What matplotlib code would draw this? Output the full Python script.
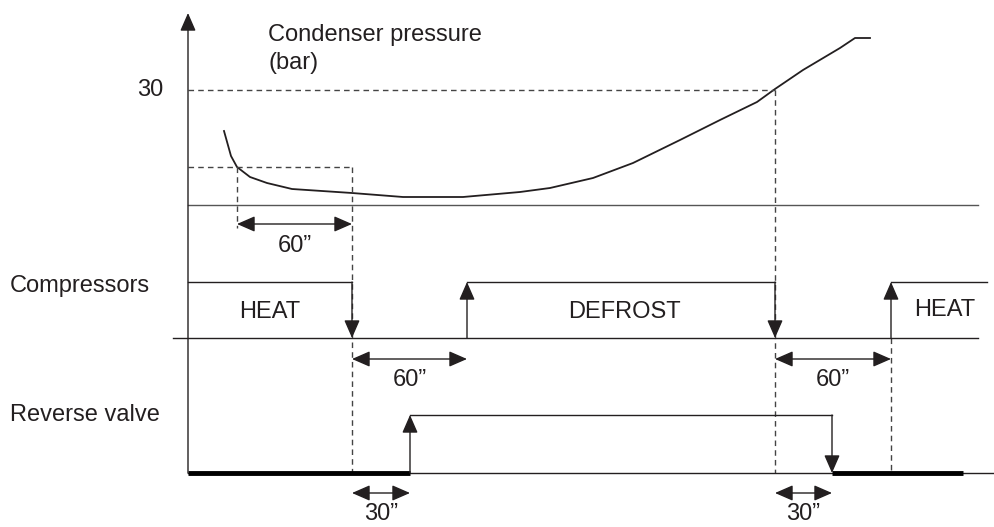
import matplotlib
matplotlib.use("Agg")
import matplotlib.pyplot as plt

plt.rcParams["font.family"] = ["Liberation Sans", "DejaVu Sans"]

# ── diagram data (screen-like units: x = time, y grows downward) ─────────────
# condenser pressure curve
curve_t = [224, 231, 237, 250, 267, 292, 352, 403, 463, 520, 550, 593, 633,
           680, 720, 757, 775, 803, 840, 855, 870]
curve_p = [131, 156, 167, 177, 183, 189, 193, 197, 197, 192, 188, 178, 163,
           140, 120, 102, 89, 70, 48, 38, 38]

# levels of the three traces
p_30bar, p_low, p_base = 90, 167, 205
comp_hi, comp_lo = 282, 338
valve_hi, valve_lo = 415, 473

# event times
t_axis = 188
t_knee = 237          # pressure falls below the lower threshold
t_heat_off = 352      # compressors stop (start of defrost sequence)
t_valve_on = 410      # reverse valve switches (30" later)
t_defrost_on = 467    # compressors restart (60" later)
t_defrost_end = 775   # pressure reaches 30 bar
t_valve_off = 832
t_heat_on = 891
t_end = 987

DARK = "#231f20"
DASH = "#444444"
FS = 17

fig = plt.figure(figsize=(9.95, 5.27), dpi=100)
ax = fig.add_axes([0, 0, 1, 1])
ax.set_xlim(0, 995)
ax.set_ylim(527, 0)
ax.axis("off")


def arrow(x0, y0, x1, y1, both=False):
    style = "<|-|>" if both else "-|>"
    ax.annotate("", xy=(x1, y1), xytext=(x0, y0),
                arrowprops=dict(arrowstyle=style + ",head_length=1.1,head_width=0.48",
                                color=DARK, lw=1.0, shrinkA=0, shrinkB=0))


dash = dict(color=DASH, lw=1.0, ls=(0, (4, 3)))
solid = dict(color=DARK, lw=1.0)

# vertical axis with arrow
arrow(t_axis, valve_lo, t_axis, 13)

# pressure panel
ax.plot(curve_t, curve_p, color=DARK, lw=1.3)
ax.plot([t_axis, t_defrost_end], [p_30bar, p_30bar], **dash)
ax.plot([t_axis, t_heat_off], [p_low, p_low], **dash)
ax.plot([t_knee, t_knee], [p_low, 228], **dash)
ax.plot([t_axis, 978], [p_base, p_base], color="#555555", lw=1.0)
arrow(t_knee, 224, t_heat_off, 224, both=True)
ax.text(t_axis + 80, 35, "Condenser pressure", fontsize=FS, va="center", color=DARK)
ax.text(t_axis + 80, 63, "(bar)", fontsize=FS, va="center", color=DARK)
ax.text(150, p_30bar, "30", fontsize=FS, ha="center", va="center", color=DARK)
ax.text((t_knee + t_heat_off) / 2, 246, "60\u201d", fontsize=FS, ha="center",
        va="center", color=DARK)

# guide lines
ax.plot([t_heat_off, t_heat_off], [p_low, valve_lo], **dash)
ax.plot([t_defrost_end, t_defrost_end], [p_30bar, valve_lo], **dash)
ax.plot([t_heat_on, t_heat_on], [comp_lo, valve_lo], **dash)

# compressors
ax.plot([173, 978], [comp_lo, comp_lo], **solid)
ax.plot([t_axis, t_heat_off], [comp_hi, comp_hi], **solid)
arrow(t_heat_off, comp_hi, t_heat_off, comp_lo)
ax.plot([t_defrost_on, t_defrost_end], [comp_hi, comp_hi], **solid)
arrow(t_defrost_on, comp_lo, t_defrost_on, comp_hi)
arrow(t_defrost_end, comp_hi, t_defrost_end, comp_lo)
ax.plot([t_heat_on, t_end], [comp_hi, comp_hi], **solid)
arrow(t_heat_on, comp_lo, t_heat_on, comp_hi)
ax.text(10, 286, "Compressors", fontsize=FS, va="center", color=DARK)
ax.text(270, 312, "HEAT", fontsize=FS, ha="center", va="center", color=DARK)
ax.text(624, 312, "DEFROST", fontsize=FS, ha="center", va="center", color=DARK)
ax.text(945, 310, "HEAT", fontsize=FS, ha="center", va="center", color=DARK)

arrow(t_heat_off, 359, t_defrost_on, 359, both=True)
arrow(t_defrost_end, 359, t_heat_on, 359, both=True)
ax.text((t_heat_off + t_defrost_on) / 2, 380, "60\u201d", fontsize=FS,
        ha="center", va="center", color=DARK)
ax.text((t_defrost_end + t_heat_on) / 2, 380, "60\u201d", fontsize=FS,
        ha="center", va="center", color=DARK)

# reverse valve
ax.plot([t_axis, 995], [valve_lo, valve_lo], **solid)
ax.plot([t_axis, t_valve_on], [valve_lo, valve_lo], color="black", lw=3.5,
        solid_capstyle="butt")
ax.plot([t_valve_off, 963], [valve_lo, valve_lo], color="black", lw=3.5,
        solid_capstyle="butt")
ax.plot([t_valve_on, t_valve_off], [valve_hi, valve_hi], **solid)
arrow(t_valve_on, valve_lo, t_valve_on, valve_hi)
arrow(t_valve_off, valve_hi, t_valve_off, valve_lo)
ax.text(10, 415, "Reverse valve", fontsize=FS, va="center", color=DARK)

arrow(t_heat_off, 493, t_valve_on, 493, both=True)
arrow(t_defrost_end, 493, t_valve_off, 493, both=True)
ax.text((t_heat_off + t_valve_on) / 2, 514, "30\u201d", fontsize=FS,
        ha="center", va="center", color=DARK)
ax.text((t_defrost_end + t_valve_off) / 2, 514, "30\u201d", fontsize=FS,
        ha="center", va="center", color=DARK)

fig.savefig("out.png", dpi=100)
